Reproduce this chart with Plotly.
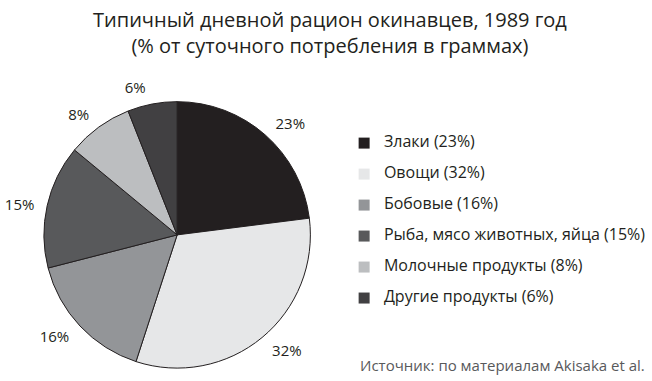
import plotly.graph_objects as go

categories = ["Злаки", "Овощи", "Бобовые", "Рыба, мясо животных, яйца", "Молочные продукты", "Другие продукты"]
values = [23, 32, 16, 15, 8, 6]
colors = ["#231f20", "#e6e7e8", "#939598", "#58595b", "#bcbec0", "#414042"]

title_lines = ["Типичный дневной рацион окинавцев, 1989 год", "(% от суточного потребления в граммах)"]
source_text = "Источник: по материалам Akisaka et al."

W, H = 652, 381
FONT = "Open Sans"


def px(x):
    return min(1.0, max(0.0, x / W))


def py(y):
    return min(1.0, max(0.0, 1 - y / H))


fig = go.Figure()

# pie geometry in pixels
cx, cy, r = 172, 238, 135

pie_common = dict(
    labels=categories, values=values, sort=False,
    direction="clockwise", rotation=0, showlegend=False,
)

# visible pie (labels carried by the helper pie below)
fig.add_trace(go.Pie(
    **pie_common,
    textinfo="none",
    marker=dict(colors=colors, line=dict(color="#231f20", width=1)),
    domain=dict(x=[px(cx - r), px(cx + r)], y=[py(cy + r), py(cy - r)]),
    hoverinfo="label+percent",
))

# transparent, slightly larger pie that only carries the outside percentage labels
R = r + 8
lcy = cy
fig.add_trace(go.Pie(
    **pie_common,
    text=[f"{v}%" for v in values],
    textinfo="text",
    textposition="outside",
    marker=dict(colors=["rgba(0,0,0,0)"] * len(values), line=dict(width=0)),
    outsidetextfont=dict(family=FONT, size=15, color="#231f20"),
    domain=dict(x=[px(cx - R), px(cx + R)], y=[py(lcy + R), py(lcy - R)]),
    hoverinfo="skip",
))

# legend
leg_marker_x = 361
leg_text_x = 381
leg_y0 = 145
leg_dy = 31.4
ys = [leg_y0 + i * leg_dy for i in range(len(categories))]
fig.add_trace(go.Scatter(
    x=[leg_marker_x] * len(categories), y=ys,
    mode="markers",
    marker=dict(symbol="square", size=11, color=colors, line=dict(width=0)),
    xaxis="x", yaxis="y", showlegend=False, hoverinfo="skip",
))
fig.add_trace(go.Scatter(
    x=[leg_text_x] * len(categories), y=ys,
    mode="text",
    text=[f"{c} ({v}%)" for c, v in zip(categories, values)],
    textposition="middle right",
    textfont=dict(family=FONT, size=16, color="#231f20"),
    xaxis="x", yaxis="y", showlegend=False, hoverinfo="skip",
))

fig.update_layout(
    width=W, height=H,
    margin=dict(l=0, r=0, t=0, b=0),
    paper_bgcolor="white", plot_bgcolor="rgba(0,0,0,0)",
    font=dict(family=FONT, color="#231f20"),
    xaxis=dict(range=[0, W], visible=False, fixedrange=True, domain=[0, 1]),
    yaxis=dict(range=[H, 0], visible=False, fixedrange=True, domain=[0, 1]),
    annotations=[
        dict(text=title_lines[0] + "<br>" + title_lines[1], x=px(327), y=py(5),
             xref="paper", yref="paper", xanchor="center", yanchor="top",
             borderpad=0, showarrow=False,
             font=dict(family=FONT, size=20, color="#231f20")),
        dict(text=source_text, x=px(646), y=py(370), xref="paper", yref="paper",
             xanchor="right", yanchor="middle", borderpad=0, showarrow=False,
             font=dict(family=FONT, size=15, color="#58595b")),
    ],
)

fig.write_html("out.html", config={"displayModeBar": False},
               post_script="document.body.style.margin='0';")
